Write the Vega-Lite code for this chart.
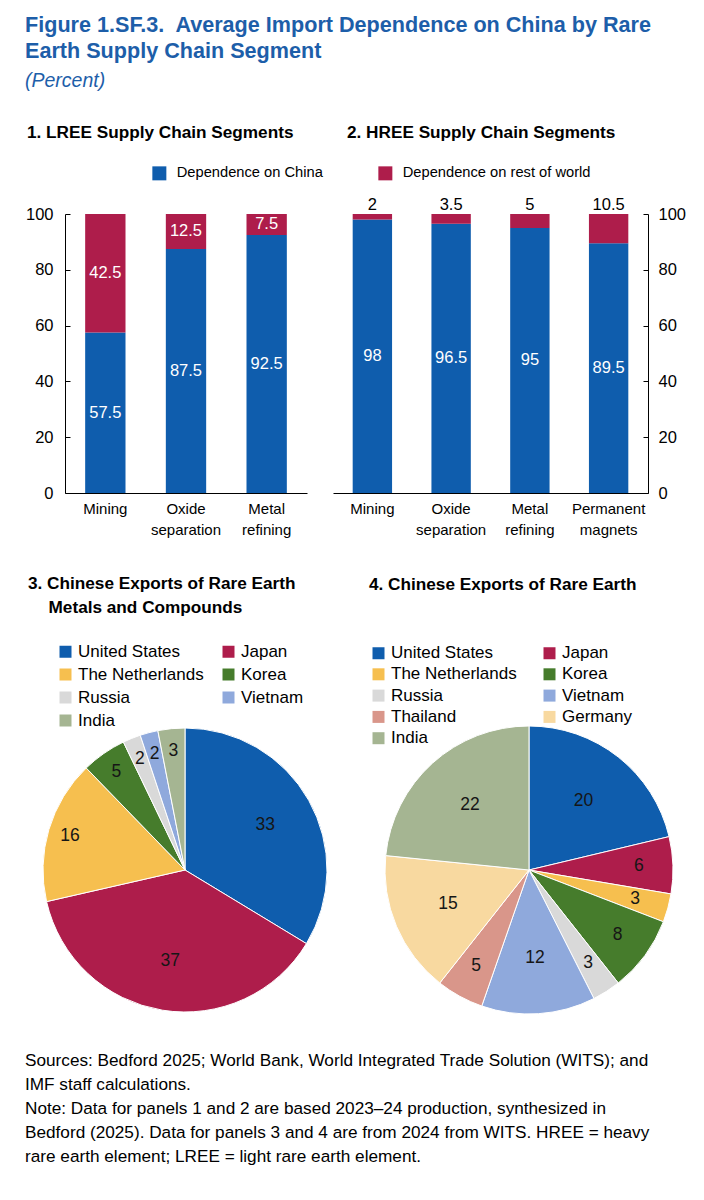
{
  "$schema": "https://vega.github.io/schema/vega-lite/v6.json",
  "background": "white",
  "padding": {"left": 25, "top": 14, "right": 0, "bottom": 0},
  "config": {
    "font": "Liberation Sans",
    "view": {"stroke": null},
    "axis": {"labelColor": "#000", "domainColor": "#000", "tickColor": "#000", "grid": false, "title": null},
    "legend": {"title": null, "symbolType": "square", "symbolStrokeWidth": 0, "padding": 0, "labelColor": "#000", "orient": "none", "labelLimit": 400}
  },
  "datasets": {
    "bars1": [
      {"segment": "Mining", "series": "Dependence on China", "value": 57.5, "order": 1},
      {"segment": "Mining", "series": "Dependence on rest of world", "value": 42.5, "order": 2},
      {"segment": "Oxide separation", "series": "Dependence on China", "value": 87.5, "order": 1},
      {"segment": "Oxide separation", "series": "Dependence on rest of world", "value": 12.5, "order": 2},
      {"segment": "Metal refining", "series": "Dependence on China", "value": 92.5, "order": 1},
      {"segment": "Metal refining", "series": "Dependence on rest of world", "value": 7.5, "order": 2}
    ],
    "bars2": [
      {"segment": "Mining", "series": "Dependence on China", "value": 98, "order": 1},
      {"segment": "Mining", "series": "Dependence on rest of world", "value": 2, "order": 2},
      {"segment": "Oxide separation", "series": "Dependence on China", "value": 96.5, "order": 1},
      {"segment": "Oxide separation", "series": "Dependence on rest of world", "value": 3.5, "order": 2},
      {"segment": "Metal refining", "series": "Dependence on China", "value": 95, "order": 1},
      {"segment": "Metal refining", "series": "Dependence on rest of world", "value": 5, "order": 2},
      {"segment": "Permanent magnets", "series": "Dependence on China", "value": 89.5, "order": 1},
      {"segment": "Permanent magnets", "series": "Dependence on rest of world", "value": 10.5, "order": 2}
    ],
    "pie3": [
      {"country": "United States", "value": 33, "order": 1},
      {"country": "Japan", "value": 37, "order": 2},
      {"country": "The Netherlands", "value": 16, "order": 3},
      {"country": "Korea", "value": 5, "order": 4},
      {"country": "Russia", "value": 2, "order": 5},
      {"country": "Vietnam", "value": 2, "order": 6},
      {"country": "India", "value": 3, "order": 7}
    ],
    "pie4": [
      {"country": "United States", "value": 20, "order": 1},
      {"country": "Japan", "value": 6, "order": 2},
      {"country": "The Netherlands", "value": 3, "order": 3},
      {"country": "Korea", "value": 8, "order": 4},
      {"country": "Russia", "value": 3, "order": 5},
      {"country": "Vietnam", "value": 12, "order": 6},
      {"country": "Thailand", "value": 5, "order": 7},
      {"country": "Germany", "value": 15, "order": 8},
      {"country": "India", "value": 22, "order": 9}
    ]
  },
  "title": {
    "text": ["Figure 1.SF.3.\u00a0 Average Import Dependence on China by Rare", "Earth Supply Chain Segment"],
    "subtitle": "(Percent)",
    "anchor": "start",
    "frame": "bounds",
    "fontSize": 21.6,
    "fontWeight": "bold",
    "color": "#1d5ea9",
    "lineHeight": 26,
    "subtitleFontSize": 19.5,
    "subtitleFontStyle": "italic",
    "subtitleColor": "#1d5ea9",
    "subtitlePadding": 10,
    "offset": 33
  },
  "spacing": 37,
  "vconcat": [
    {
      "hconcat": [
        {
          "width": 242,
          "height": 279,
          "title": {"text": "1. LREE Supply Chain Segments", "anchor": "start", "frame": "group", "dx": -38, "offset": 25, "fontSize": 17.2, "fontWeight": "bold", "color": "#000"},
          "data": {"name": "bars1"},
          "encoding": {
            "x": {"field": "segment", "type": "nominal", "sort": ["Mining", "Oxide separation", "Metal refining"],
                  "scale": {"paddingInner": 0.5, "paddingOuter": 0.25},
                  "axis": {"labelAngle": 0, "ticks": false, "labelFontSize": 15, "labelExpr": "split(datum.label, ' ')", "labelLineHeight": 21, "labelPadding": 8}}
          },
          "layer": [
            {
              "mark": {"type": "bar"},
              "encoding": {
                "y": {"field": "value", "type": "quantitative", "stack": "zero", "scale": {"domain": [0, 100]},
                      "axis": {"values": [0, 10, 20, 30, 40, 50, 60, 70, 80, 90, 100], "labelExpr": "datum.value % 20 === 0 ? datum.label : ''", "tickSize": -5, "labelPadding": 17, "labelFontSize": 16.5}},
                "color": {"field": "series", "type": "nominal",
                          "scale": {"domain": ["Dependence on China", "Dependence on rest of world"], "range": ["#0f5dad", "#ae1d4b"]},
                          "legend": {"values": ["Dependence on China"], "legendX": 87, "legendY": -48, "symbolSize": 196, "labelFontSize": 14.7, "labelOffset": 10}},
                "order": {"field": "order"}
              }
            },
            {
              "mark": {"type": "text", "color": "white", "fontSize": 16.5},
              "encoding": {
                "y": {"field": "value", "type": "quantitative", "stack": "zero", "bandPosition": 0.5},
                "detail": {"field": "series"},
                "order": {"field": "order"},
                "text": {"field": "value", "type": "quantitative"}
              }
            }
          ]
        },
        {
          "width": 315,
          "height": 279,
          "title": {"text": "2. HREE Supply Chain Segments", "anchor": "start", "frame": "group", "dx": 14, "offset": 25, "fontSize": 17.2, "fontWeight": "bold", "color": "#000"},
          "data": {"name": "bars2"},
          "encoding": {
            "x": {"field": "segment", "type": "nominal", "sort": ["Mining", "Oxide separation", "Metal refining", "Permanent magnets"],
                  "scale": {"paddingInner": 0.5, "paddingOuter": 0.25},
                  "axis": {"labelAngle": 0, "ticks": false, "labelFontSize": 15, "labelExpr": "split(datum.label, ' ')", "labelLineHeight": 21, "labelPadding": 8}}
          },
          "layer": [
            {
              "mark": {"type": "bar"},
              "encoding": {
                "y": {"field": "value", "type": "quantitative", "stack": "zero", "scale": {"domain": [0, 100]},
                      "axis": {"orient": "right", "values": [0, 10, 20, 30, 40, 50, 60, 70, 80, 90, 100], "labelExpr": "datum.value % 20 === 0 ? datum.label : ''", "tickSize": -5, "labelPadding": 15, "labelFontSize": 16.5}},
                "color": {"field": "series", "type": "nominal",
                          "scale": {"domain": ["Dependence on China", "Dependence on rest of world"], "range": ["#0f5dad", "#ae1d4b"]},
                          "legend": {"values": ["Dependence on rest of world"], "legendX": 45, "legendY": -48, "symbolSize": 196, "labelFontSize": 14.7, "labelOffset": 10}},
                "order": {"field": "order"}
              }
            },
            {
              "transform": [{"filter": "datum.series === 'Dependence on China'"}],
              "mark": {"type": "text", "color": "white", "fontSize": 16.5},
              "encoding": {
                "y": {"field": "value", "type": "quantitative", "stack": "zero", "bandPosition": 0.5},
                "text": {"field": "value", "type": "quantitative"}
              }
            },
            {
              "transform": [{"filter": "datum.series === 'Dependence on rest of world'"}],
              "mark": {"type": "text", "color": "#000", "fontSize": 16.5, "baseline": "bottom", "dy": -1},
              "encoding": {
                "y": {"datum": 100, "type": "quantitative"},
                "text": {"field": "value", "type": "quantitative"}
              }
            }
          ]
        }
      ],
      "spacing": 26,
      "bounds": "flush",
      "resolve": {"scale": {"color": "independent", "y": "independent"}, "legend": {"color": "independent"}}
    },
    {
      "hconcat": [
        {
          "width": 240,
          "height": 240,
          "title": {"text": ["3. Chinese Exports of Rare Earth", "\u200b\u00a0\u00a0\u00a0\u00a0\u200aMetals and Compounds"], "anchor": "start", "frame": "group", "dx": -37, "offset": 27, "fontSize": 17.2, "fontWeight": "bold", "color": "#000", "lineHeight": 24},
          "data": {"name": "pie3"},
          "encoding": {
            "theta": {"field": "value", "type": "quantitative", "stack": true},
            "order": {"field": "order"},
            "color": {"field": "country", "type": "nominal",
                      "scale": {"domain": ["United States", "The Netherlands", "Russia", "India", "Japan", "Korea", "Vietnam"],
                                "range": ["#0f5dad", "#f6bf4f", "#d9d9d9", "#a5b592", "#ae1d4b", "#467c2c", "#8fa9dc"]},
                      "legend": {"columns": 2, "legendX": -8, "legendY": -107, "symbolSize": 144, "labelFontSize": 17, "labelOffset": 4, "rowPadding": 5, "columnPadding": 16}}
          },
          "layer": [
            {"mark": {"type": "arc", "radius": 142, "stroke": "white", "strokeWidth": 1}},
            {
              "mark": {"type": "text", "fontSize": 17.5, "radius": {"expr": "datum.value >= 30 ? 92 : 120"}},
              "encoding": {
                "color": {"value": "#161616"},
                "text": {"field": "value", "type": "quantitative"}
              }
            }
          ]
        },
        {
          "width": 240,
          "height": 240,
          "title": {"text": "4. Chinese Exports of Rare Earth", "anchor": "start", "frame": "group", "dx": -40, "offset": 51, "fontSize": 17.2, "fontWeight": "bold", "color": "#000"},
          "data": {"name": "pie4"},
          "encoding": {
            "theta": {"field": "value", "type": "quantitative", "stack": true},
            "order": {"field": "order"},
            "color": {"field": "country", "type": "nominal",
                      "scale": {"domain": ["United States", "The Netherlands", "Russia", "Thailand", "India", "Japan", "Korea", "Vietnam", "Germany"],
                                "range": ["#0f5dad", "#f6bf4f", "#d9d9d9", "#d9968a", "#a5b592", "#ae1d4b", "#467c2c", "#8fa9dc", "#f8d9a0"]},
                      "legend": {"columns": 2, "legendX": -39, "legendY": -105.5, "symbolSize": 144, "labelFontSize": 17, "labelOffset": 4, "rowPadding": 3.3, "columnPadding": 24}}
          },
          "layer": [
            {"mark": {"type": "arc", "radius": 144, "stroke": "white", "strokeWidth": 1}},
            {
              "mark": {"type": "text", "fontSize": 17.5, "radius": {"expr": "datum.value >= 10 ? 88 : 110"}},
              "encoding": {
                "color": {"value": "#161616"},
                "text": {"field": "value", "type": "quantitative"}
              }
            }
          ]
        }
      ],
      "spacing": 104,
      "bounds": "flush",
      "resolve": {"scale": {"color": "independent"}, "legend": {"color": "independent"}},
      "title": {
        "text": ["Sources: Bedford 2025; World Bank, World Integrated Trade Solution (WITS); and", "IMF staff calculations.", "Note: Data for panels 1 and 2 are based 2023–24 production, synthesized in", "Bedford (2025). Data for panels 3 and 4 are from 2024 from WITS. HREE = heavy", "rare earth element; LREE = light rare earth element."],
        "orient": "bottom",
        "anchor": "start",
        "frame": "group",
        "dx": -40,
        "offset": 36,
        "fontSize": 17.2,
        "fontWeight": "normal",
        "color": "#000",
        "lineHeight": 24
      }
    }
  ]
}
